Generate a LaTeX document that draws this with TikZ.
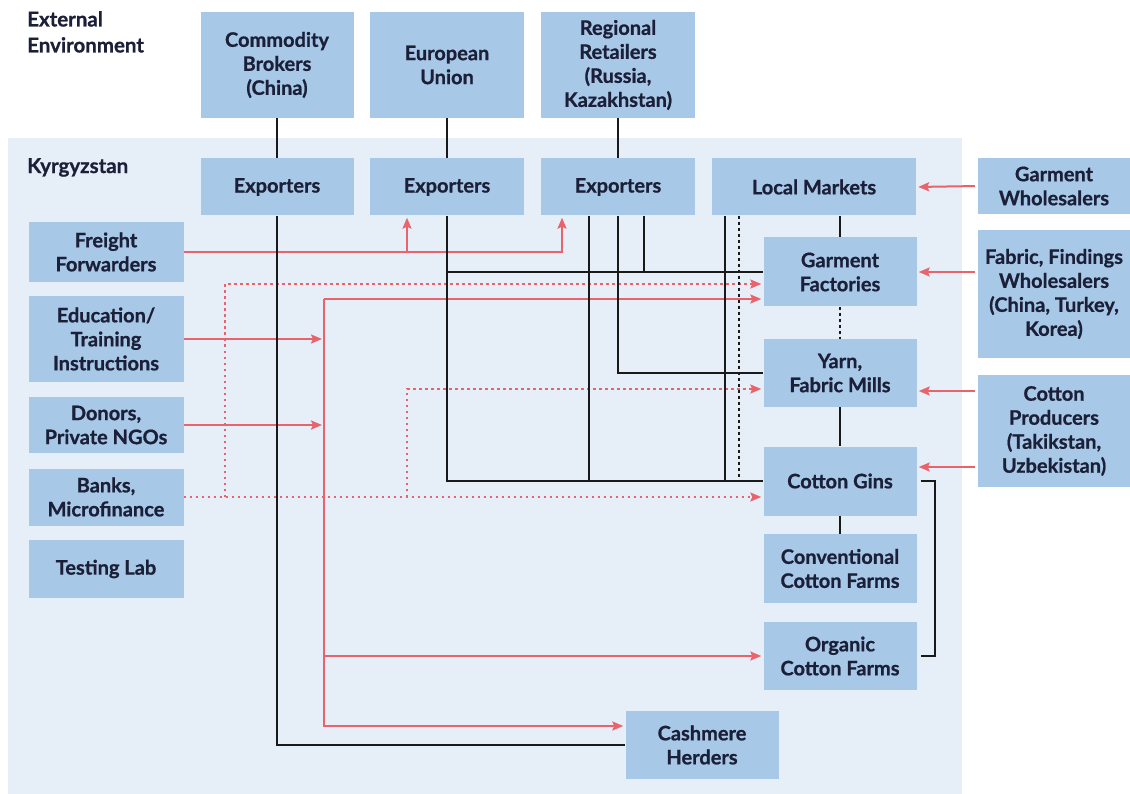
\documentclass[tikz,border=0pt]{standalone}
\usepackage{fontspec}
\setmainfont{Lato}[BoldFeatures={FakeBold=0.8}]
\usetikzlibrary{arrows.meta}
\definecolor{panel}{HTML}{E6EEF7}
\definecolor{boxc}{HTML}{A8C8E8}
\definecolor{ink}{HTML}{1B2038}
\definecolor{rd}{HTML}{E8636C}
\begin{document}
\begin{tikzpicture}[x=1pt,y=-1pt,
  box/.style={fill=boxc, draw=none, inner sep=0pt, align=center, text=ink,
    font=\bfseries\fontsize{20}{24}\selectfont},
  sz/.style 2 args={minimum width=#1pt, minimum height=#2pt},
  lbl/.style={anchor=north west, align=left, text=ink, inner sep=0pt,
    font=\bfseries\fontsize{20.5}{26}\selectfont},
  blk/.style={draw=black!90, line width=2pt},
  blkdot/.style={draw=black!90, line width=2pt, dash pattern=on 3pt off 3pt},
  rl/.style={draw=rd, line width=2pt},
  ra/.style={rl, shorten >=2pt, -{Stealth[length=11pt,width=9pt,inset=2pt]}},
  rdot/.style={draw=rd, line width=2pt, dash pattern=on 2.5pt off 3.5pt},
  rdota/.style={rdot, shorten >=2pt, -{Stealth[length=11pt,width=9pt,inset=2pt]}}
]
\useasboundingbox (0,0) rectangle (1130,794);
\fill[white] (0,0) rectangle (1130,794);
\fill[panel] (8,138) rectangle (962,794);

\node[lbl] (ext) at (27,11) {External\\Environment};
\node[lbl] (kyr) at (27,158) {Kyrgyzstan};

% top row
\node[box, sz={153}{106}] (cb) at (277,65) {Commodity\\Brokers\\(China)};
\node[box, sz={154}{106}] (eu) at (447,65) {European\\Union};
\node[box, sz={154}{106}] (rr) at (618,65) {Regional\\Retailers\\(Russia,\\Kazakhstan)};
% exporters row
\node[box, sz={153}{57}] (ex1) at (277,187) {Exporters};
\node[box, sz={154}{57}] (ex2) at (447,187) {Exporters};
\node[box, sz={154}{57}] (ex3) at (618,187) {Exporters};
\node[box, sz={204}{57}] (lm) at (814,187) {Local Markets};
% right external
\node[box, sz={152}{56}] (gw) at (1054,186) {Garment\\Wholesalers};
\node[box, sz={152}{128}] (ffw) at (1054,294) {Fabric, Findings\\Wholesalers\\(China, Turkey,\\Korea)};
\node[box, sz={152}{112}] (cp) at (1054,431) {Cotton\\Producers\\(Takikstan,\\Uzbekistan)};
% chain
\node[box, sz={153}{69}] (gf) at (840,272) {Garment\\Factories};
\node[box, sz={153}{68}] (ym) at (840,373) {Yarn,\\Fabric Mills};
\node[box, sz={153}{69}] (cg) at (840,481) {Cotton Gins};
\node[box, sz={153}{69}] (ccf) at (840,568.5) {Conventional\\Cotton Farms};
\node[box, sz={153}{68}] (ocf) at (840,656) {Organic\\Cotton Farms};
\node[box, sz={153}{68}] (ch) at (702,745) {Cashmere\\Herders};
% left column
\node[box, sz={155}{60}] (ff) at (106,252) {Freight\\Forwarders};
\node[box, sz={155}{85}] (edu) at (106,339) {Education/\\Training\\Instructions};
\node[box, sz={155}{56}] (don) at (106,425) {Donors,\\Private NGOs};
\node[box, sz={155}{57}] (bank) at (106,497) {Banks,\\Microfinance};
\node[box, sz={155}{58}] (tl) at (106,569) {Testing Lab};

% coordinates
\coordinate (a2) at ([xshift=-40pt]ex2.south);
\coordinate (a3) at ([xshift=-56pt]ex3.south);
\coordinate (ht) at (324,299);
\coordinate (hb) at (324,726);
\coordinate (d1) at (225,284);
\coordinate (d2) at (407,389);
\coordinate (y1) at ([yshift=-18pt]ym.east);
\coordinate (y2) at ([yshift=14pt]cg.east);

% red solid
\draw[ra] (ff.east) -| (a3);
\draw[ra] (ff.east -| a2) -- (a2);
\draw[ra] (edu.east) -- (edu.east -| ht);
\draw[ra] (don.east) -- (don.east -| ht);
\draw[ra] (ht) -- (ht -| gf.west);
\draw[ra] (ht) -- (hb) -- (hb -| ch.west);
\draw[ra] (ht |- ocf.west) -- (ocf.west);
% red dotted
\draw[rdota] (bank.east) -- (bank.east -| cg.west);
\draw[rdota] (bank.east -| d1) -- (d1) -- (d1 -| gf.west);
\draw[rdota] (bank.east -| d2) -- (d2) -- (d2 -| ym.west);
% right red arrows
\draw[ra, shorten <=3pt] (gw.west) -- (lm.east);
\draw[ra, shorten <=3pt] (ffw.west |- gf.east) -- (gf.east);
\draw[ra, shorten <=3pt] (cp.west |- y1) -- (y1);
\draw[ra, shorten <=3pt] (cp.west |- y2) -- (y2);

% black
\draw[blk] (cb.south) -- (ex1.north);
\draw[blk] (eu.south) -- (ex2.north);
\draw[blk] (rr.south) -- (ex3.north);
\draw[blk] (ex1.south) |- (ch.west);
\draw[blk] (ex2.south) |- (cg.west);
\draw[blk] (ex2.south |- gf.west) -- (gf.west);
\draw[blk] ([xshift=-29pt]ex3.south) -- ([xshift=-29pt]ex3.south |- cg.west);
\draw[blk] (ex3.south) |- (ym.west);
\draw[blk] ([xshift=26pt]ex3.south) -- ([xshift=26pt]ex3.south |- gf.west);
\draw[blk] ([xshift=13pt]lm.south west) -- ([xshift=13pt]lm.south west |- cg.west);
\draw[blkdot] ([xshift=27pt]lm.south west) -- ([xshift=27pt]lm.south west |- cg.west);
\draw[blk] (gf.north |- lm.south) -- (gf.north);
\draw[blkdot] (gf.south) -- (ym.north);
\draw[blk] (ym.south) -- (cg.north);
\draw[blk] (cg.south) -- (ccf.north);
\draw[blk] ([xshift=4pt]cg.east) -| ([xshift=18pt]ocf.east) -- ([xshift=4pt]ocf.east);
\end{tikzpicture}
\end{document}
